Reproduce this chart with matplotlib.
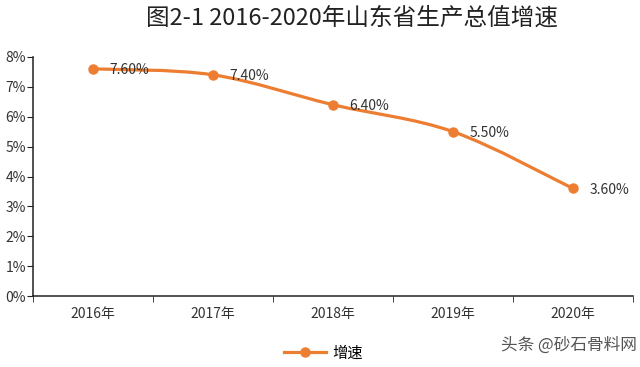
import matplotlib.pyplot as plt
from matplotlib.path import Path
from matplotlib.patches import PathPatch
from matplotlib.lines import Line2D

plt.rcParams['font.family'] = ['Noto Sans CJK SC', 'DejaVu Sans']

years = ['2016年', '2017年', '2018年', '2019年', '2020年']
growth = [7.6, 7.4, 6.4, 5.5, 3.6]
labels = ['7.60%', '7.40%', '6.40%', '5.50%', '3.60%']
yticks = [0, 1, 2, 3, 4, 5, 6, 7, 8]

orange = '#ED7D31'
grey = '#333333'


def smooth_path(xs, ys, t=1 / 6):
    # cubic bezier segments through the points (catmull-rom style)
    verts = [(xs[0], ys[0])]
    codes = [Path.MOVETO]
    n = len(xs)
    for i in range(n - 1):
        x0, y0 = (xs[i - 1], ys[i - 1]) if i > 0 else (xs[i], ys[i])
        x3, y3 = (xs[i + 2], ys[i + 2]) if i + 2 < n else (xs[i + 1], ys[i + 1])
        x1, y1 = xs[i], ys[i]
        x2, y2 = xs[i + 1], ys[i + 1]
        c1 = (x1 + (x2 - x0) * t, y1 + (y2 - y0) * t)
        c2 = (x2 - (x3 - x1) * t, y2 - (y3 - y1) * t)
        verts += [c1, c2, (x2, y2)]
        codes += [Path.CURVE4] * 3
    return Path(verts, codes)


fig = plt.figure(figsize=(6.4, 3.67), dpi=100)
ax = fig.add_axes([0.0516, 0.193, 0.9375, 0.652])

xs = list(range(len(years)))
ax.add_patch(PathPatch(smooth_path(xs, growth), fill=False, color=orange, lw=2.3, zorder=2))
ax.plot(xs, growth, 'o', color=orange, ms=6.5, zorder=3)

for x, y, s in zip(xs, growth, labels):
    ax.annotate(s, (x, y), xytext=(12, -1), textcoords='offset points',
                ha='left', va='center', fontsize=10, color=grey, zorder=4)

ax.set_xlim(-0.5, len(years) - 0.5)
ax.set_ylim(0, 8)
ax.set_yticks(yticks)
ax.set_yticklabels([f'{v}%' for v in yticks], fontsize=10, color=grey)
ax.set_xticks(xs)
ax.set_xticklabels(years, fontsize=10, color=grey)
ax.set_xticks([i - 0.5 for i in range(len(years) + 1)], minor=True)
ax.tick_params(axis='x', which='major', length=0, pad=8)
ax.tick_params(axis='x', which='minor', length=4, color='#222222')
ax.tick_params(axis='y', length=4, color='#222222', pad=1)
for side in ['top', 'right']:
    ax.spines[side].set_visible(False)
for side in ['left', 'bottom']:
    ax.spines[side].set_color('#222222')
    ax.spines[side].set_linewidth(1.1)

fig.text(0.55, 0.95, '图2-1 2016-2020年山东省生产总值增速', ha='center', va='center',
         fontsize=17, color='#222222')

handle = Line2D([], [], color=orange, lw=2.3, marker='o', ms=6.5)
fig.legend([handle], ['增速'], loc='center', bbox_to_anchor=(0.505, 0.038),
           frameon=False, fontsize=11, handlelength=2.8, handletextpad=0.4)

fig.text(0.995, 0.06, '头条 @砂石骨料网', ha='right', va='center', fontsize=12,
         color='#555555')

fig.savefig('out.png', dpi=100, facecolor='white')
